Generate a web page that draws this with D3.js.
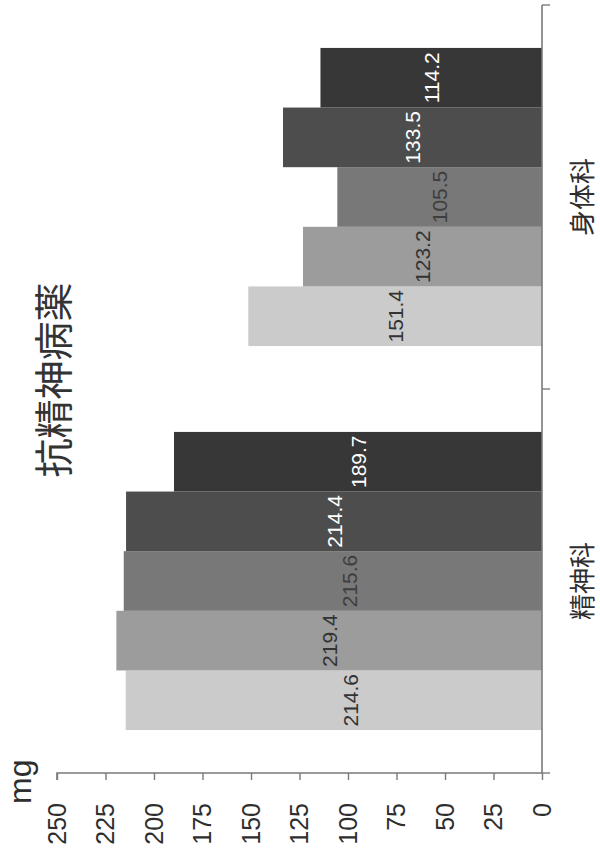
<!DOCTYPE html>
<html><head><meta charset="utf-8">
<script src="https://cdn.jsdelivr.net/npm/d3@7"></script>
<style>
html,body{margin:0;padding:0;background:#fff;}
svg{display:block;}
</style></head>
<body>
<svg id="chart" width="600" height="858"></svg>
<script>
// ---- data ----
const categories = ["精神科", "身体科"];
const seriesNames = ["系列1", "系列2", "系列3", "系列4", "系列5"];
const series1 = [214.6, 151.4];
const series2 = [219.4, 123.2];
const series3 = [215.6, 105.5];
const series4 = [214.4, 133.5];
const series5 = [189.7, 114.2];
const yTicks = [0, 25, 50, 75, 100, 125, 150, 175, 200, 225, 250];
const title = "抗精神病薬";
const unit = "mg";

const seriesValues = [series1, series2, series3, series4, series5];
const colors = ["#cbcbcb", "#9c9c9c", "#787878", "#4d4d4d", "#373737"];
const labelColors = ["#333", "#333", "#3e3e3e", "#fff", "#fff"];

const rows = [];
categories.forEach((c, ci) => seriesNames.forEach((s, si) =>
  rows.push({cat: c, ser: s, si, value: seriesValues[si][ci]})));

// chart drawn as an 858x600 vertical bar chart, rotated -90deg
const svg = d3.select("#chart");
const g = svg.append("g").attr("transform", "translate(0,858) rotate(-90)");

const x0 = d3.scaleBand().domain(categories).range([85, 853]).padding(0);
const x1 = d3.scaleBand().domain(seriesNames).range([0, x0.bandwidth()])
  .paddingInner(0).paddingOuter(0.72);
const y = d3.scaleLinear().domain([0, 250]).range([542, 57]);

const numFont = "'Liberation Sans', Arial, sans-serif";
const cjkFont = "'Noto Sans CJK JP', 'Noto Sans CJK SC', sans-serif";

// bars
g.selectAll("rect.bar").data(rows).enter().append("rect")
  .attr("class", "bar")
  .attr("x", d => x0(d.cat) + x1(d.ser))
  .attr("width", x1.bandwidth())
  .attr("y", d => y(d.value))
  .attr("height", d => y(0) - y(d.value))
  .attr("fill", d => colors[d.si]);

// value labels (centered in bar; two nudged toward the base as in the original)
const nudge = {"精神科|0": 17, "精神科|2": 17};
g.selectAll("text.val").data(rows).enter().append("text")
  .attr("class", "val")
  .attr("x", d => x0(d.cat) + x1(d.ser) + x1.bandwidth() / 2)
  .attr("y", d => (y(d.value) + y(0)) / 2 + (nudge[d.cat + "|" + d.si] || 0))
  .attr("dy", "0.36em")
  .attr("text-anchor", "middle")
  .attr("font-family", numFont)
  .attr("font-size", 21)
  .attr("fill", d => labelColors[d.si])
  .text(d => d.value.toFixed(1));

// value axis (left in unrotated frame)
const yAxis = d3.axisLeft(y).tickValues(yTicks).tickSize(7).tickPadding(23)
  .tickFormat(d3.format("d"));
const ya = g.append("g").attr("transform", "translate(85,0)").call(yAxis);
ya.select(".domain").attr("stroke", "#7a7a7a").attr("stroke-width", 1.6)
  .attr("d", "M-7,57H0V542");
ya.selectAll(".tick line").attr("stroke", "#7a7a7a").attr("stroke-width", 1.4);
ya.selectAll(".tick text").attr("font-family", numFont).attr("font-size", 25)
  .attr("fill", "#2e2e2e");

// category axis (bottom in unrotated frame)
const xa = g.append("g").attr("transform", "translate(0,542)");
xa.append("line").attr("x1", x0.range()[0]).attr("x2", x0.range()[1])
  .attr("stroke", "#7a7a7a").attr("stroke-width", 1.6);
const bounds = categories.map(c => x0(c)).concat([x0.range()[1]]);
xa.selectAll("line.ct").data(bounds).enter().append("line")
  .attr("x1", d => d).attr("x2", d => d).attr("y1", 0).attr("y2", 8)
  .attr("stroke", "#7a7a7a").attr("stroke-width", 1.4);
xa.selectAll("text.cat").data(categories).enter().append("text")
  .attr("x", d => x0(d) + x0.bandwidth() / 2)
  .attr("y", 50)
  .attr("text-anchor", "middle")
  .attr("font-family", cjkFont)
  .attr("font-size", 26)
  .attr("fill", "#2e2e2e")
  .text(d => d);

// unit label
g.append("text").attr("x", 54).attr("y", 31)
  .attr("font-family", numFont).attr("font-size", 32).attr("fill", "#2e2e2e")
  .text(unit);

// title
g.append("text").attr("x", 478).attr("y", 68).attr("text-anchor", "middle")
  .attr("font-family", cjkFont).attr("font-size", 39).attr("fill", "#333")
  .text(title);
</script>
</body></html>
